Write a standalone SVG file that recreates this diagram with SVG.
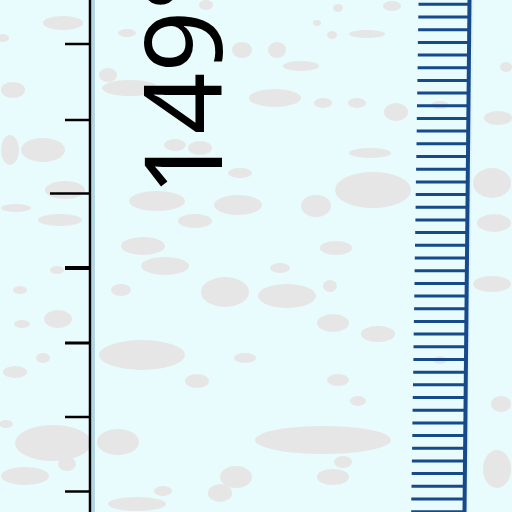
<svg xmlns="http://www.w3.org/2000/svg" width="512" height="512" viewBox="0 0 512 512">
<style>
.bg{fill:#e8fbfd}
.blot ellipse{fill:#e6e6e6}
.blk{stroke:#000;stroke-width:2.5;fill:none}
.bt{stroke:#164a8b;stroke-width:3;fill:none}
.lbl{font-family:"Noto Sans","Liberation Sans",Arial,sans-serif;font-size:108px;fill:#000}
</style>
<rect class="bg" x="0" y="0" width="512" height="512"/>
<g class="blot">
<ellipse cx="63" cy="23" rx="20" ry="7"/><ellipse cx="3" cy="38" rx="6" ry="4"/>
<ellipse cx="130" cy="88" rx="28" ry="8"/><ellipse cx="108" cy="75" rx="9" ry="7"/>
<ellipse cx="127" cy="33" rx="9" ry="4"/><ellipse cx="206" cy="5" rx="7" ry="5"/>
<ellipse cx="242" cy="50" rx="10" ry="8"/><ellipse cx="277" cy="50" rx="9" ry="8"/>
<ellipse cx="301" cy="66" rx="18" ry="5"/><ellipse cx="317" cy="23" rx="4" ry="3"/>
<ellipse cx="332" cy="35" rx="5" ry="4"/><ellipse cx="367" cy="34" rx="18" ry="4"/>
<ellipse cx="338" cy="8" rx="5" ry="4"/><ellipse cx="392" cy="6" rx="9" ry="5"/>
<ellipse cx="275" cy="98" rx="26" ry="9"/><ellipse cx="323" cy="103" rx="9" ry="5"/>
<ellipse cx="357" cy="103" rx="9" ry="5"/><ellipse cx="396" cy="112" rx="12" ry="9"/>
<ellipse cx="498" cy="118" rx="14" ry="7"/><ellipse cx="506" cy="67" rx="6" ry="5"/>
<ellipse cx="10" cy="150" rx="9" ry="15"/><ellipse cx="43" cy="150" rx="22" ry="12"/>
<ellipse cx="13" cy="90" rx="12" ry="8"/><ellipse cx="175" cy="145" rx="11" ry="6"/>
<ellipse cx="200" cy="148" rx="12" ry="7"/><ellipse cx="370" cy="153" rx="21" ry="5"/>
<ellipse cx="373" cy="190" rx="38" ry="18"/><ellipse cx="316" cy="206" rx="15" ry="11"/>
<ellipse cx="157" cy="201" rx="28" ry="10"/><ellipse cx="238" cy="205" rx="24" ry="10"/>
<ellipse cx="240" cy="173" rx="12" ry="5"/><ellipse cx="16" cy="208" rx="15" ry="4"/>
<ellipse cx="65" cy="190" rx="20" ry="9"/><ellipse cx="60" cy="220" rx="22" ry="6"/>
<ellipse cx="195" cy="221" rx="17" ry="7"/><ellipse cx="143" cy="246" rx="22" ry="9"/>
<ellipse cx="336" cy="248" rx="16" ry="7"/><ellipse cx="492" cy="183" rx="19" ry="15"/>
<ellipse cx="494" cy="223" rx="17" ry="9"/>
<ellipse cx="165" cy="266" rx="24" ry="9"/><ellipse cx="121" cy="290" rx="10" ry="6"/>
<ellipse cx="225" cy="292" rx="24" ry="15"/><ellipse cx="287" cy="296" rx="29" ry="12"/>
<ellipse cx="280" cy="268" rx="10" ry="5"/><ellipse cx="330" cy="286" rx="7" ry="6"/>
<ellipse cx="333" cy="323" rx="16" ry="9"/><ellipse cx="378" cy="334" rx="17" ry="8"/>
<ellipse cx="58" cy="319" rx="14" ry="9"/><ellipse cx="22" cy="324" rx="8" ry="4"/>
<ellipse cx="20" cy="290" rx="7" ry="4"/><ellipse cx="57" cy="270" rx="7" ry="4"/>
<ellipse cx="142" cy="355" rx="43" ry="15"/><ellipse cx="15" cy="372" rx="12" ry="6"/>
<ellipse cx="43" cy="358" rx="7" ry="5"/><ellipse cx="197" cy="381" rx="12" ry="7"/>
<ellipse cx="245" cy="358" rx="11" ry="5"/><ellipse cx="338" cy="380" rx="11" ry="6"/>
<ellipse cx="358" cy="401" rx="8" ry="5"/><ellipse cx="6" cy="424" rx="7" ry="4"/>
<ellipse cx="53" cy="443" rx="38" ry="18"/><ellipse cx="118" cy="442" rx="21" ry="13"/>
<ellipse cx="323" cy="440" rx="68" ry="14"/><ellipse cx="343" cy="462" rx="9" ry="6"/>
<ellipse cx="333" cy="477" rx="16" ry="8"/><ellipse cx="236" cy="477" rx="16" ry="11"/>
<ellipse cx="220" cy="493" rx="12" ry="9"/><ellipse cx="25" cy="476" rx="24" ry="9"/>
<ellipse cx="67" cy="464" rx="9" ry="7"/><ellipse cx="137" cy="504" rx="29" ry="7"/>
<ellipse cx="163" cy="491" rx="9" ry="5"/><ellipse cx="492" cy="284" rx="19" ry="8"/>
<ellipse cx="497" cy="469" rx="14" ry="19"/><ellipse cx="501" cy="404" rx="10" ry="8"/>
<ellipse cx="440" cy="105" rx="9" ry="4"/><ellipse cx="440" cy="360" rx="7" ry="4"/>
</g>
<g id="left-frame">
<rect x="91.5" y="0" width="3.5" height="512" fill="#b3d6e4"/>
<line x1="95.5" y1="0" x2="95.5" y2="512" stroke="#ffffff" stroke-width="1"/>
<line class="blk" x1="90" y1="0" x2="90" y2="512"/>
<g class="blk">
<line x1="65" y1="44" x2="90" y2="44"/>
<line x1="65" y1="120" x2="90" y2="120"/>
<line x1="50" y1="193.5" x2="90" y2="193.5"/>
<line x1="65" y1="268" x2="90" y2="268" stroke-width="4"/>
<line x1="65" y1="343" x2="90" y2="343" stroke-width="3"/>
<line x1="65" y1="417" x2="90" y2="417"/>
<line x1="65" y1="491.5" x2="90" y2="491.5"/>
</g>
</g>
<g id="label">
<text class="lbl" transform="translate(222,196) rotate(-90)">149°</text>
</g>
<g id="blue-scale">
<line x1="472.5" y1="0" x2="467" y2="512" stroke="#dff3f8" stroke-width="2"/>
<line x1="469.5" y1="0" x2="464.5" y2="512" stroke="#164a8b" stroke-width="4"/>
<path class="bt" d="M418.5 4.3H469.5M418.3 17H469.4M418.1 29.7H469.2M417.9 42.4H469.1M417.8 55H469M417.6 67.7H468.8M417.4 80.4H468.7M417.2 93.1H468.6M417 105.8H468.5M416.8 118.5H468.3M416.7 131.1H468.2M416.5 143.8H468.1M416.3 156.5H468M416.1 169.2H467.8M415.9 181.9H467.7M415.7 194.6H467.6M415.6 207.3H467.5M415.4 219.9H467.3M415.2 232.6H467.2M415 245.3H467.1M414.8 258H466.9M414.6 270.7H466.8M414.5 283.4H466.7M414.3 296.1H466.6M414.1 308.7H466.4M413.9 321.4H466.3M413.7 334.1H466.2M413.5 346.8H466M413.4 359.5H465.9M413.2 372.2H465.8M413 384.8H465.7M412.8 397.5H465.5M412.6 410.2H465.4M412.4 422.9H465.3M412.3 435.6H465.2M412.1 448.3H465M411.9 461H464.9M411.7 473.6H464.8M411.5 486.3H464.7M411.3 499H464.5M411.2 511.7H464.4"/>
</g>
</svg>
